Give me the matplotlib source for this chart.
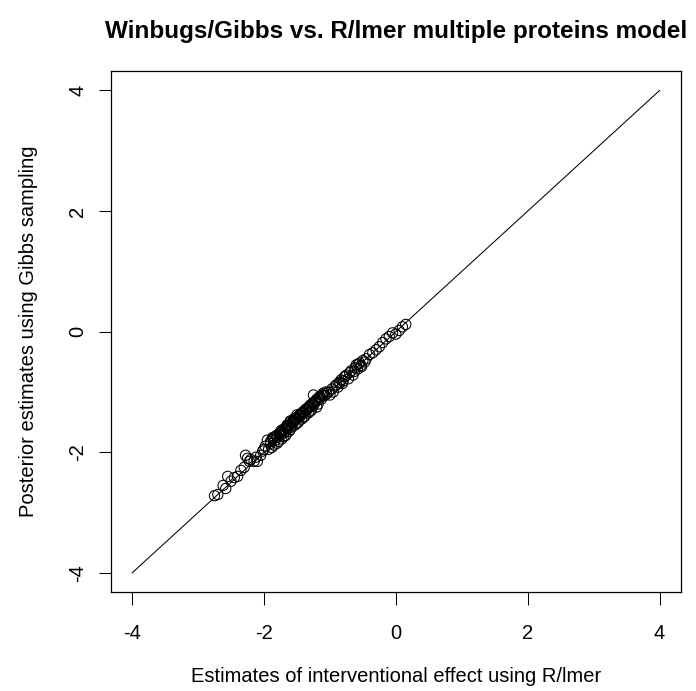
import numpy as np
import matplotlib
matplotlib.use("Agg")
from matplotlib import pyplot as plt

plt.rcParams["font.family"] = ["Liberation Sans", "DejaVu Sans"]

# estimates from R/lmer (x) and posterior means from Winbugs/Gibbs (y)
lmer_low = [-2.75, -2.70, -2.62, -2.58, -2.55, -2.50, -2.45, -2.40, -2.35, -2.30,
            -2.28, -2.25, -2.22, -2.20, -2.15, -2.12, -2.10, -2.05, -2.02, -2.00]
gibbs_low = [-2.72, -2.70, -2.55, -2.60, -2.40, -2.48, -2.42, -2.40, -2.30, -2.25,
             -2.05, -2.10, -2.15, -2.12, -2.15, -2.08, -2.15, -2.05, -1.98, -1.95]

lmer_mid = [-1.98, -1.95, -1.93, -1.90, -1.88, -1.86, -1.85, -1.83, -1.80, -1.78,
            -1.77, -1.75, -1.73, -1.72, -1.70, -1.68, -1.67, -1.65, -1.63, -1.62,
            -1.60, -1.58, -1.57, -1.55, -1.53, -1.52, -1.50, -1.48, -1.47, -1.45,
            -1.43, -1.42, -1.40, -1.38, -1.37, -1.35, -1.33, -1.32, -1.30, -1.28,
            -1.27, -1.25, -1.23, -1.22, -1.20, -1.18, -1.17, -1.15, -1.13, -1.12,
            -1.10, -1.08, -1.06, -1.05,
            -1.90, -1.85, -1.80, -1.75, -1.70, -1.65, -1.60, -1.55, -1.50, -1.45,
            -1.40, -1.35, -1.30, -1.25, -1.20, -1.15, -1.60, -1.50, -1.40,
            -1.87, -1.81, -1.76, -1.71, -1.66, -1.61, -1.56, -1.51, -1.46, -1.41,
            -1.36, -1.31, -1.26, -1.21, -1.16, -1.11, -1.74, -1.64, -1.54, -1.44]
gibbs_mid = [-1.90, -1.80, -1.95, -1.85, -1.92, -1.78, -1.88, -1.80, -1.75, -1.82,
             -1.70, -1.72, -1.78, -1.65, -1.68, -1.62, -1.72, -1.55, -1.60, -1.65,
             -1.50, -1.58, -1.52, -1.48, -1.55, -1.45, -1.42, -1.50, -1.40, -1.38,
             -1.45, -1.35, -1.32, -1.40, -1.30, -1.28, -1.35, -1.25, -1.22, -1.30,
             -1.20, -1.05, -1.18, -1.15, -1.12, -1.20, -1.10, -1.08, -1.12, -1.05,
             -1.02, -1.06, -1.00, -1.03,
             -1.82, -1.75, -1.85, -1.68, -1.74, -1.60, -1.62, -1.50, -1.52, -1.40,
             -1.42, -1.30, -1.32, -1.22, -1.25, -1.10, -1.48, -1.38, -1.35,
             -1.76, -1.72, -1.68, -1.62, -1.58, -1.55, -1.48, -1.45, -1.38, -1.35,
             -1.28, -1.25, -1.18, -1.15, -1.08, -1.06, -1.64, -1.56, -1.44, -1.36]

lmer_high = [-1.02, -1.00, -0.97, -0.95, -0.92, -0.90, -0.88, -0.85, -0.83, -0.80,
             -0.78, -0.75, -0.72, -0.70, -0.68, -0.65, -0.62, -0.60, -0.58, -0.55,
             -0.52, -0.50, -0.47, -0.45, -0.40, -0.35, -0.30, -0.25, -0.20, -0.15,
             -0.10, -0.05, 0.00, 0.05, 0.10, 0.15,
             -0.86, -0.81, -0.77, -0.63, -0.57, -0.53]
gibbs_high = [-1.00, -1.05, -0.95, -1.00, -0.90, -0.88, -0.92, -0.85, -0.80, -0.82,
              -0.75, -0.72, -0.78, -0.68, -0.65, -0.72, -0.60, -0.55, -0.62, -0.52,
              -0.58, -0.48, -0.50, -0.45, -0.38, -0.35, -0.30, -0.25, -0.18, -0.12,
              -0.08, -0.02, -0.04, 0.02, 0.08, 0.12,
              -0.84, -0.86, -0.74, -0.66, -0.54, -0.56]

ref_line = [-4, 4]
ticks = [-4, -2, 0, 2, 4]

lmer = np.array(lmer_low + lmer_mid + lmer_high)
gibbs = np.array(gibbs_low + gibbs_mid + gibbs_high)

fig = plt.figure(figsize=(6.96, 6.91), dpi=100)
ax = fig.add_axes([0.1595, 0.143, 0.8185, 0.754])

ax.scatter(lmer, gibbs, s=55, facecolors="none", edgecolors="black", linewidths=0.75)
ax.plot(ref_line, ref_line, color="black", lw=0.75)

ax.set_xlim(-4.32, 4.32)
ax.set_ylim(-4.32, 4.32)
ax.set_xticks(ticks)
ax.set_yticks(ticks)
ax.set_xticklabels([str(t) for t in ticks], fontsize=14.5)
ax.set_yticklabels([str(t) for t in ticks], fontsize=14.5, rotation=90, va="center")
ax.tick_params(length=9, width=0.75, pad=14)
ax.tick_params(axis="y", pad=8)
for sp in ax.spines.values():
    sp.set_linewidth(0.9)

ax.set_xlabel("Estimates of interventional effect using R/lmer", fontsize=14.5, labelpad=17)
ax.set_ylabel("Posterior estimates using Gibbs sampling", fontsize=14.5, labelpad=22)
ax.set_title("Winbugs/Gibbs vs. R/lmer multiple proteins model", fontsize=17.5,
             fontweight="bold", pad=24)

fig.savefig("out.png", dpi=100)
